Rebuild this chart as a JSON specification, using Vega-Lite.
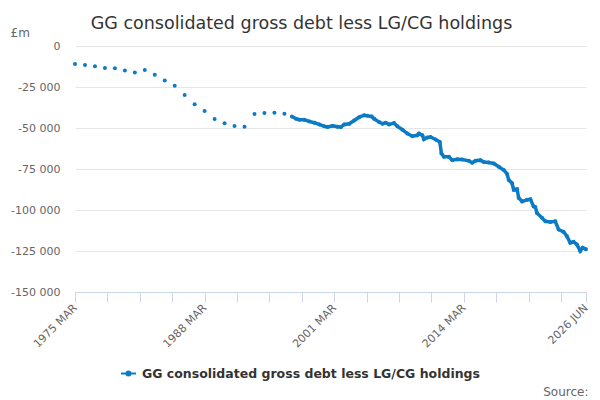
{
  "$schema": "https://vega.github.io/schema/vega-lite/v6.json",
  "width": 511,
  "height": 246,
  "autosize": {"type": "none"},
  "padding": {"left": 75, "top": 46, "right": 14, "bottom": 108},
  "config": {
    "font": "DejaVu Sans",
    "view": {"stroke": null},
    "locale": {"number": {"decimal": ".", "thousands": " ", "grouping": [3], "currency": ["£", ""], "minus": "-"}}
  },
  "title": {
    "text": "GG consolidated gross debt less LG/CG holdings",
    "anchor": "middle",
    "frame": "group",
    "dx": -29,
    "dy": 24,
    "offset": 0,
    "baseline": "bottom",
    "fontSize": 17.5,
    "fontWeight": 500,
    "color": "#333333",
    "font": "DejaVu Sans"
  },
  "data": {
    "values": [
      {"date": "1975-03-01", "value": -11000},
      {"date": "1976-03-01", "value": -11600},
      {"date": "1977-03-01", "value": -12400},
      {"date": "1978-03-01", "value": -13400},
      {"date": "1979-03-01", "value": -13600},
      {"date": "1980-03-01", "value": -14900},
      {"date": "1981-03-01", "value": -16100},
      {"date": "1982-03-01", "value": -14600},
      {"date": "1983-03-01", "value": -17500},
      {"date": "1984-03-01", "value": -21100},
      {"date": "1985-03-01", "value": -24300},
      {"date": "1986-03-01", "value": -29900},
      {"date": "1987-03-01", "value": -35500},
      {"date": "1988-03-01", "value": -39700},
      {"date": "1989-03-01", "value": -44500},
      {"date": "1990-03-01", "value": -47100},
      {"date": "1991-03-01", "value": -48800},
      {"date": "1992-03-01", "value": -49200},
      {"date": "1993-03-01", "value": -41500},
      {"date": "1994-03-01", "value": -40900},
      {"date": "1995-03-01", "value": -40700},
      {"date": "1996-03-01", "value": -41300},
      {"date": "1996-12-01", "value": -42950},
      {"date": "1997-05-01", "value": -44350},
      {"date": "1997-09-01", "value": -44960},
      {"date": "1998-03-01", "value": -44960},
      {"date": "1998-09-01", "value": -45980},
      {"date": "1999-03-01", "value": -46770},
      {"date": "1999-09-01", "value": -47800},
      {"date": "2000-03-01", "value": -49000},
      {"date": "2000-07-01", "value": -49400},
      {"date": "2001-01-01", "value": -48600},
      {"date": "2001-07-01", "value": -49200},
      {"date": "2001-11-01", "value": -49400},
      {"date": "2002-03-01", "value": -47800},
      {"date": "2002-09-01", "value": -47400},
      {"date": "2003-03-01", "value": -45400},
      {"date": "2003-09-01", "value": -43400},
      {"date": "2004-03-01", "value": -42200},
      {"date": "2004-07-01", "value": -42600},
      {"date": "2004-12-01", "value": -43000},
      {"date": "2005-03-01", "value": -44400},
      {"date": "2005-09-01", "value": -46400},
      {"date": "2006-01-01", "value": -47400},
      {"date": "2006-05-01", "value": -46800},
      {"date": "2006-09-01", "value": -47800},
      {"date": "2007-03-01", "value": -47000},
      {"date": "2007-07-01", "value": -49000},
      {"date": "2008-01-01", "value": -51000},
      {"date": "2008-07-01", "value": -53400},
      {"date": "2009-01-01", "value": -55000},
      {"date": "2009-07-01", "value": -54450},
      {"date": "2009-09-01", "value": -53400},
      {"date": "2010-01-01", "value": -54450},
      {"date": "2010-03-01", "value": -56900},
      {"date": "2010-07-01", "value": -55800},
      {"date": "2010-11-01", "value": -55500},
      {"date": "2011-05-01", "value": -57000},
      {"date": "2011-10-01", "value": -58500},
      {"date": "2011-12-01", "value": -65500},
      {"date": "2012-03-01", "value": -67600},
      {"date": "2012-09-01", "value": -67600},
      {"date": "2013-01-01", "value": -69600},
      {"date": "2013-07-01", "value": -69000},
      {"date": "2014-01-01", "value": -69200},
      {"date": "2014-09-01", "value": -70000},
      {"date": "2015-01-01", "value": -71200},
      {"date": "2015-05-01", "value": -70000},
      {"date": "2015-11-01", "value": -69600},
      {"date": "2016-03-01", "value": -70800},
      {"date": "2016-09-01", "value": -71000},
      {"date": "2017-03-01", "value": -71600},
      {"date": "2017-09-01", "value": -73600},
      {"date": "2018-03-01", "value": -75600},
      {"date": "2018-07-01", "value": -78000},
      {"date": "2018-09-01", "value": -81700},
      {"date": "2019-01-01", "value": -83700},
      {"date": "2019-03-01", "value": -87700},
      {"date": "2019-07-01", "value": -87300},
      {"date": "2019-09-01", "value": -92700},
      {"date": "2020-01-01", "value": -94800},
      {"date": "2020-07-01", "value": -93800},
      {"date": "2020-11-01", "value": -93400},
      {"date": "2021-03-01", "value": -97800},
      {"date": "2021-05-01", "value": -98200},
      {"date": "2021-07-01", "value": -101800},
      {"date": "2022-01-01", "value": -104800},
      {"date": "2022-05-01", "value": -106900},
      {"date": "2022-11-01", "value": -107300},
      {"date": "2023-05-01", "value": -106900},
      {"date": "2023-09-01", "value": -111900},
      {"date": "2024-03-01", "value": -113300},
      {"date": "2024-07-01", "value": -116000},
      {"date": "2024-11-01", "value": -120000},
      {"date": "2025-03-01", "value": -119400},
      {"date": "2025-07-01", "value": -121000},
      {"date": "2025-11-01", "value": -125000},
      {"date": "2026-02-01", "value": -123000},
      {"date": "2026-06-01", "value": -124000}
    ]
  },
  "encoding": {
    "x": {
      "field": "date",
      "type": "temporal",
      "scale": {"type": "utc", "domain": [{"year": 1975, "month": 3, "date": 1, "utc": true}, {"year": 2026, "month": 6, "date": 1, "utc": true}]},
      "axis": {
        "values": [
          {"year": 1975, "month": 3, "date": 1, "utc": true},
          {"year": 1978, "month": 6, "date": 1, "utc": true},
          {"year": 1981, "month": 9, "date": 1, "utc": true},
          {"year": 1984, "month": 12, "date": 1, "utc": true},
          {"year": 1988, "month": 3, "date": 1, "utc": true},
          {"year": 1991, "month": 6, "date": 1, "utc": true},
          {"year": 1994, "month": 9, "date": 1, "utc": true},
          {"year": 1997, "month": 12, "date": 1, "utc": true},
          {"year": 2001, "month": 3, "date": 1, "utc": true},
          {"year": 2004, "month": 6, "date": 1, "utc": true},
          {"year": 2007, "month": 9, "date": 1, "utc": true},
          {"year": 2010, "month": 12, "date": 1, "utc": true},
          {"year": 2014, "month": 3, "date": 1, "utc": true},
          {"year": 2017, "month": 6, "date": 1, "utc": true},
          {"year": 2020, "month": 9, "date": 1, "utc": true},
          {"year": 2023, "month": 12, "date": 1, "utc": true},
          {"year": 2026, "month": 6, "date": 1, "utc": true}
        ],
        "labelExpr": "indexof(['1975-03','1988-03','2001-03','2014-03','2026-06'], utcFormat(datum.value, '%Y-%m')) >= 0 ? upper(utcFormat(datum.value, '%Y %b')) : ''",
        "labelAngle": -45,
        "labelAlign": "right",
        "labelBaseline": "middle",
        "labelFlush": false,
        "labelOverlap": false,
        "labelPadding": 4,
        "labelColor": "#666666",
        "labelFontSize": 11,
        "tickSize": 10,
        "tickColor": "#ccd6eb",
        "domainColor": "#ccd6eb",
        "grid": false,
        "title": "Source:",
        "titleAnchor": "end",
        "titleAlign": "right",
        "titleBaseline": "alphabetic",
        "titleX": 513,
        "titleY": 103,
        "titleFontWeight": "normal",
        "titleFontSize": 12,
        "titleColor": "#666666"
      }
    },
    "y": {
      "field": "value",
      "type": "quantitative",
      "scale": {"domain": [-150000, 0], "nice": false},
      "axis": {
        "values": [0, -25000, -50000, -75000, -100000, -125000, -150000],
        "format": ",d",
        "ticks": false,
        "domain": false,
        "gridColor": "#e6e6e6",
        "labelColor": "#666666",
        "labelFontSize": 11,
        "labelPadding": 15,
        "title": "£m",
        "titleAngle": 0,
        "titleAlign": "left",
        "titleBaseline": "alphabetic",
        "titleX": -65,
        "titleY": -10,
        "titleFontWeight": "normal",
        "titleFontSize": 12,
        "titleColor": "#666666"
      }
    },
    "color": {
      "datum": "GG consolidated gross debt less LG/CG holdings",
      "type": "nominal",
      "scale": {"range": ["#0b7bc6"]},
      "legend": {
        "title": null,
        "orient": "none",
        "legendX": 45,
        "legendY": 319,
        "symbolType": "M-1,0H1M-0.27,0A0.27,0.27,0,1,0,0.27,0A0.27,0.27,0,1,0,-0.27,0Z",
        "symbolSize": 225,
        "symbolStrokeWidth": 2,
        "symbolFillColor": "#0b7bc6",
        "symbolStrokeColor": "#0b7bc6",
        "labelFont": "DejaVu Sans",
        "labelFontWeight": "bold",
        "labelFontSize": 12.5,
        "labelColor": "#333333",
        "labelOffset": 5,
        "labelLimit": 0
      }
    }
  },
  "layer": [
    {
      "transform": [{"filter": "time(datum.date) >= utc(1996, 10, 1)"}],
      "mark": {"type": "line", "strokeWidth": 3.5, "interpolate": "linear"}
    },
    {
      "mark": {"type": "circle", "size": 16, "opacity": 1}
    }
  ]
}
